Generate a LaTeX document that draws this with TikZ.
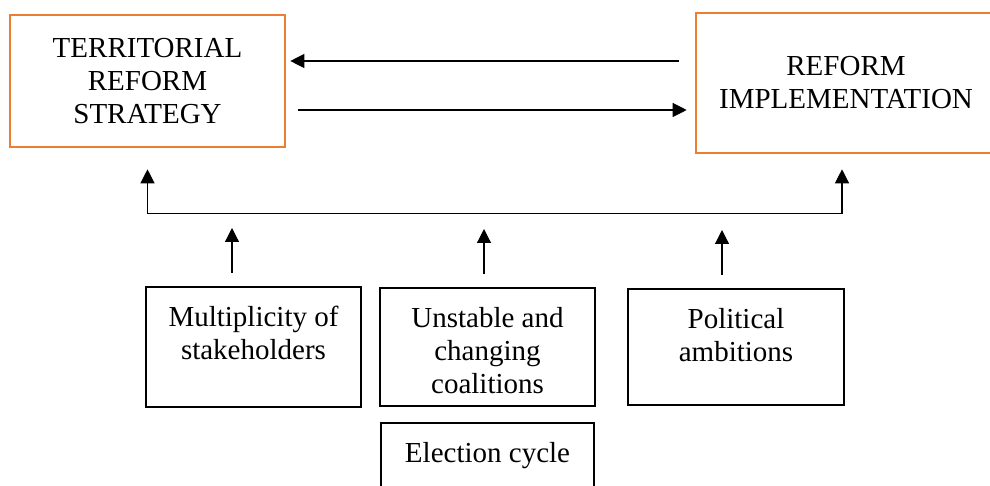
\documentclass[tikz,border=0pt]{standalone}
\usepackage{fontspec}
\setmainfont{Liberation Serif}
\usetikzlibrary{arrows.meta, positioning}
\definecolor{reformorange}{HTML}{ED7D31}

\begin{document}
\begin{tikzpicture}[x=1pt,y=-1pt,
		every node/.style={font=\fontsize{29}{33}\selectfont},
		arr/.style={line width=1.2pt,-{Triangle[length=14pt,width=14pt]}},
		twoarr/.style={line width=1.2pt,{Triangle[length=14pt,width=14pt]}-{Triangle[length=14pt,width=14pt]}},
		stage/.style={draw=reformorange,line width=2.6pt,align=center,inner sep=0pt},
		factor/.style={draw,line width=1.8pt,inner sep=0pt,outer sep=0pt,minimum width=215pt},
		inside/.style={align=center,anchor=north,inner sep=0pt,yshift=-19pt}]
		\clip (0,0) rectangle (990,486);
		% the two stages
		\node[stage,minimum width=275pt,minimum height=132pt] 	(strategy) 	at (147.5,81) 	{TERRITORIAL\\REFORM\\STRATEGY};
		\node[stage,minimum width=300pt,minimum height=140pt] 	(implement) at (846,83) 	{REFORM\\IMPLEMENTATION};
		% the factors
		\node[factor,minimum height=120pt,label={[inside]north:{Multiplicity of\\stakeholders}}] 	(stake) 	at (253.5,347) 	{};
		\node[factor,minimum height=118pt,label={[inside]north:{Unstable and\\changing\\coalitions}}] 	(coalition) [right=19pt of stake] 	{};
		\node[factor,minimum width=216pt,minimum height=116pt,label={[inside]north:{Political\\ambitions}}] 	(ambition) 	[right=33pt of coalition] 	{};
		\node[factor,minimum width=213pt,minimum height=100pt,label={[inside]north:{Election cycle}}] 	(election) 	[below=17pt of coalition] 	{};
		% connectors
		\draw[arr] ([xshift=-16pt,yshift=22pt]implement.west) -- ([xshift=4pt,yshift=20pt]strategy.east);
		\draw[arr] ([xshift=12pt,yshift=-29pt]strategy.east) -- ([xshift=-8pt,yshift=-27pt]implement.west);
		\draw[twoarr] ([yshift=-21pt]strategy.south) |- ([xshift=-4pt,yshift=-59pt]implement.south) -- ([xshift=-4pt,yshift=-15pt]implement.south);
		\draw[arr] ([xshift=-21.5pt,yshift=14pt]stake.north) -- ++(0,-45);
		\draw[arr] ([xshift=-3.5pt,yshift=14pt]coalition.north) -- ++(0,-45);
		\draw[arr] ([xshift=-14pt,yshift=14pt]ambition.north) -- ++(0,-45);
	\end{tikzpicture}
\end{document}
